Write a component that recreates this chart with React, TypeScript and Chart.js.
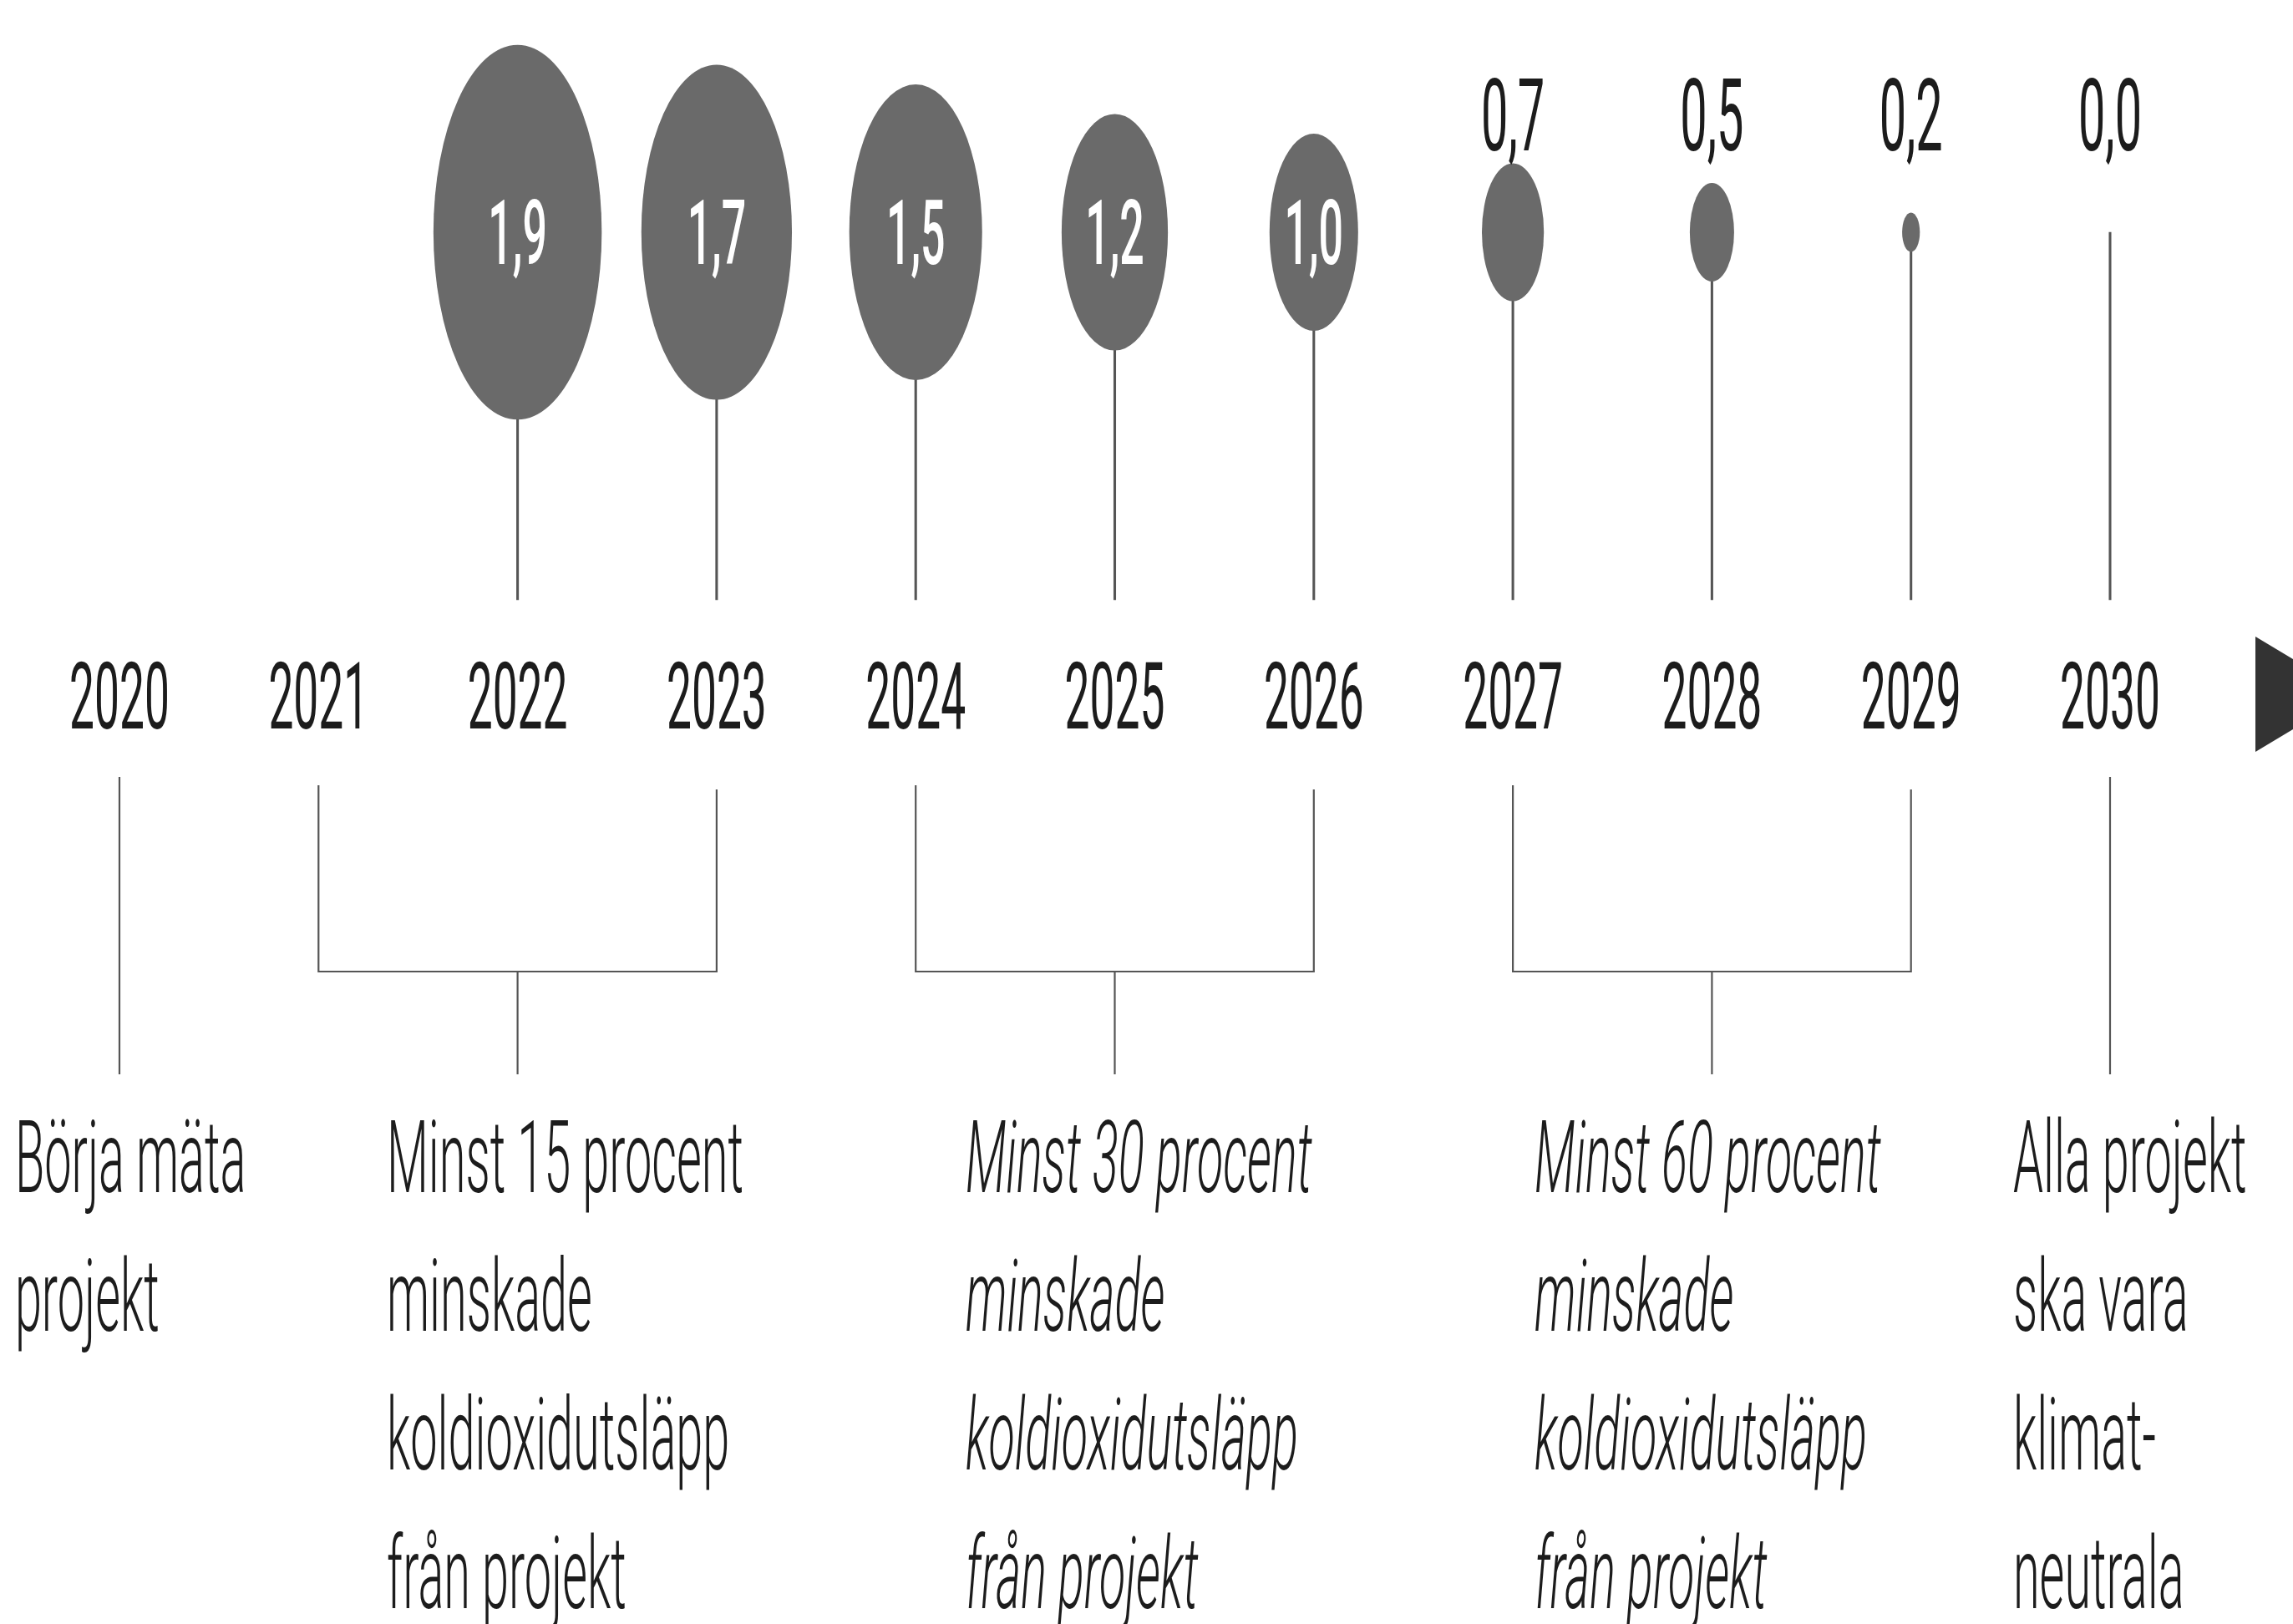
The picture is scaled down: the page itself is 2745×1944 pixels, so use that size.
import { useEffect, useRef } from 'react';
import { Chart, registerables } from 'chart.js';

Chart.register(...registerables);

// ---------- data ----------
const YEARS = [2020, 2021, 2022, 2023, 2024, 2025, 2026, 2027, 2028, 2029, 2030];
const YEAR_LABELS = ['2020', '2021', '2022', '2023', '2024', '2025', '2026', '2027', '2028', '2029', '2030'];
// emissions per year (null = no marker)
const EMISSIONS: (number | null)[] = [null, null, 1.9, 1.7, 1.5, 1.2, 1.0, 0.7, 0.5, 0.2, 0.0];
// groups of years joined by a bracket
const BRACKET_FROM = [2021, 2024, 2027];
const BRACKET_TO = [2023, 2026, 2029];
// single years with a plain line down to their note
const SINGLE_YEARS = [2020, 2030];
// notes below the timeline
const NOTE_LINES = [
  ['Börja mäta', 'projekt'],
  ['Minst 15 procent', 'minskade', 'koldioxidutsläpp', 'från projekt'],
  ['Minst 30 procent', 'minskade', 'koldioxidutsläpp', 'från projekt'],
  ['Minst 60 procent', 'minskade', 'koldioxidutsläpp', 'från projekt'],
  ['Alla projekt', 'ska vara', 'klimat-', 'neutrala'],
];
const NOTE_ITALIC = [false, false, true, true, false];

// ---------- layout (not data) ----------
const W = 2745;
const H = 1944;
const PX_PER_YEAR = 238.3;
const X_MIN = 2020 - 143 / PX_PER_YEAR;
const X_MAX = X_MIN + W / PX_PER_YEAR;
const PX_PER_UNIT = 236;
const Y_MAX = 278 / PX_PER_UNIT;
const Y_MIN = Y_MAX - H / PX_PER_UNIT;
const STEM_BASE = Y_MAX - 718 / PX_PER_UNIT;
const WIDTH_PER_UNIT = 0.445; // ellipse width in years per unit of value
const NOTE_X = [2019.475, 2021.343, 2024.251, 2027.109, 2029.513];
const SX = 0.48; // horizontal condensing of the text
const FONT = 'Roboto, "Liberation Sans", sans-serif';
const BUBBLE_COLOR = '#6a6a6a';
const LINE_COLOR = '#555555';
const TEXT_COLOR = '#1c1c1c';

const fmt = (v: number) => v.toFixed(1).replace('.', ',');

function drawText(
  ctx: CanvasRenderingContext2D,
  text: string,
  x: number,
  y: number,
  font: string,
  color: string,
  align: CanvasTextAlign
) {
  ctx.save();
  ctx.font = font;
  ctx.fillStyle = color;
  ctx.textBaseline = 'alphabetic';
  ctx.textAlign = align;
  ctx.translate(x, y);
  ctx.scale(SX, 1);
  ctx.fillText(text, 0, 0);
  ctx.restore();
}

const timelinePlugin = {
  id: 'timeline',
  beforeDatasetsDraw(chart: any) {
    const { ctx } = chart;
    const xs = chart.scales.x;
    const px = (yr: number) => xs.getPixelForValue(yr);

    // year labels
    YEARS.forEach((yr, i) => {
      drawText(ctx, YEAR_LABELS[i], px(yr), 872, `400 111px ${FONT}`, TEXT_COLOR, 'center');
    });

    // arrow at the end of the timeline
    const ax = px(2030) + 174;
    ctx.save();
    ctx.fillStyle = '#333333';
    ctx.beginPath();
    ctx.moveTo(ax, 762);
    ctx.lineTo(ax + 115, 831);
    ctx.lineTo(ax, 900);
    ctx.closePath();
    ctx.fill();
    ctx.restore();

    ctx.save();
    ctx.strokeStyle = LINE_COLOR;
    ctx.lineWidth = 2.2;
    ctx.lineCap = 'butt';
    // single lines
    SINGLE_YEARS.forEach((yr) => {
      ctx.beginPath();
      ctx.moveTo(px(yr), 930);
      ctx.lineTo(px(yr), 1286);
      ctx.stroke();
    });
    // brackets
    BRACKET_FROM.forEach((from, i) => {
      const to = BRACKET_TO[i];
      const mid = (from + to) / 2;
      ctx.beginPath();
      ctx.moveTo(px(from), 940);
      ctx.lineTo(px(from), 1163);
      ctx.lineTo(px(to), 1163);
      ctx.lineTo(px(to), 945);
      ctx.stroke();
      ctx.beginPath();
      ctx.moveTo(px(mid), 1163);
      ctx.lineTo(px(mid), 1286);
      ctx.stroke();
    });
    ctx.restore();

    // notes
    NOTE_LINES.forEach((lines, i) => {
      const style = NOTE_ITALIC[i] ? 'italic 300' : '300';
      lines.forEach((line, j) => {
        drawText(ctx, line, px(NOTE_X[i]), 1427 + j * 166, `${style} 120px ${FONT}`, TEXT_COLOR, 'left');
      });
    });
  },
  afterDatasetsDraw(chart: any) {
    const { ctx } = chart;
    const xs = chart.scales.x;
    const ys = chart.scales.y;
    const meta = chart.getDatasetMeta(1);
    meta.data.forEach((el: any, i: number) => {
      const raw = chart.data.datasets[1].data[i];
      if (!raw) return;
      const v = raw.v as number;
      const yr = raw.x as number;
      const cx = el.x;
      const cy = (el.y + el.base) / 2;
      const ry = Math.abs(el.base - el.y) / 2;
      const rx = xs.getPixelForValue(yr + (WIDTH_PER_UNIT * v) / 2) - xs.getPixelForValue(yr);
      if (v > 0) {
        ctx.save();
        ctx.fillStyle = BUBBLE_COLOR;
        ctx.beginPath();
        ctx.ellipse(cx, cy, rx, ry, 0, 0, Math.PI * 2);
        ctx.fill();
        ctx.restore();
      }
      if (v >= 1) {
        drawText(ctx, fmt(v), cx, cy + 38, `500 108px ${FONT}`, '#ffffff', 'center');
      } else {
        const labelBase = ys.getPixelForValue(Y_MAX - 180 / PX_PER_UNIT);
        drawText(ctx, fmt(v), cx, labelBase, `400 120px ${FONT}`, TEXT_COLOR, 'center');
      }
    });
  },
};

export default function App() {
  const ref = useRef<HTMLCanvasElement | null>(null);

  useEffect(() => {
    if (!ref.current) return;
    const stems = YEARS.map((yr, i) =>
      EMISSIONS[i] == null ? null : { x: yr, y: [STEM_BASE, 0] }
    ).filter(Boolean);
    const bubbles = YEARS.map((yr, i) => {
      const v = EMISSIONS[i];
      return v == null ? null : { x: yr, y: [-v / 2, v / 2], v };
    }).filter(Boolean);

    const chart = new Chart(ref.current, {
      type: 'bar',
      data: {
        datasets: [
          {
            label: 'stem',
            data: stems as any,
            backgroundColor: LINE_COLOR,
            barThickness: 2.4,
            grouped: false,
          } as any,
          {
            label: 'Utsläpp',
            data: bubbles as any,
            backgroundColor: 'rgba(0,0,0,0)',
            barThickness: 1,
            grouped: false,
          } as any,
        ],
      },
      options: {
        responsive: false,
        animation: false,
        devicePixelRatio: 1,
        layout: { padding: 0 },
        plugins: {
          legend: { display: false },
          tooltip: { enabled: false },
        },
        scales: {
          x: {
            type: 'linear',
            display: false,
            min: X_MIN,
            max: X_MAX,
            offset: false,
            grid: { offset: false },
          },
          y: { type: 'linear', display: false, min: Y_MIN, max: Y_MAX },
        },
      },
      plugins: [timelinePlugin],
    });
    return () => chart.destroy();
  }, []);

  return (
    <div
      style={{
        position: 'fixed',
        left: 0,
        top: 0,
        width: W,
        height: H,
        background: '#ffffff',
        overflow: 'hidden',
      }}
    >
      <canvas ref={ref} width={W} height={H} style={{ display: 'block', width: W, height: H }} />
    </div>
  );
}
